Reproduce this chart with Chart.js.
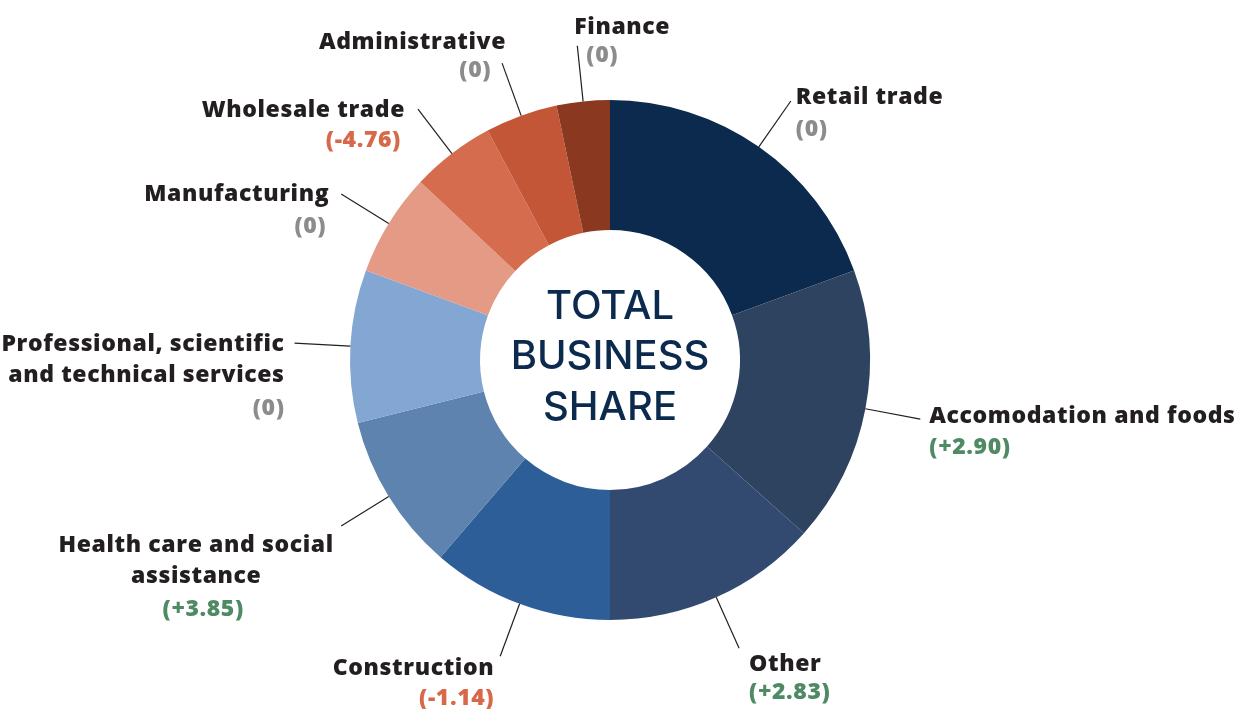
<!DOCTYPE html>
<html>
<head>
<meta charset="utf-8">
<title>Total business share</title>
<script src="https://cdn.jsdelivr.net/npm/chart.js@4.4.1/dist/chart.umd.min.js"></script>
<style>
    html, body { margin: 0; padding: 0; background: #fff; }
    #wrap { position: relative; width: 1246px; height: 709px; }
</style>
</head>
<body>
<div id="wrap"><canvas id="shareChart"></canvas></div>
<script>
// data
const categories = [
    'Retail trade',
    'Accomodation and foods',
    'Other',
    'Construction',
    ['Health care and social', 'assistance'],
    ['Professional, scientific', 'and technical services'],
    'Manufacturing',
    'Wholesale trade',
    'Administrative',
    'Finance'
];
const shareValues = [19.4, 17.2, 13.4, 11.3, 9.8, 9.5, 6.4, 5.2, 4.5, 3.3];
const changeValues = [0, 2.90, 2.83, -1.14, 3.85, 0, 0, -4.76, 0, 0];
const sliceColors = ['#0b2a4e', '#2d4360', '#324a70', '#2d5e98', '#5d83ae', '#84a6d3', '#e49a85', '#d46c4d', '#c35636', '#8a3820'];
const centerLines = ['TOTAL', 'BUSINESS', 'SHARE'];

// where each label sits relative to the end of its leader line
const labelLayout = [
    { align: 'left',   dx: 5,    dy: -4,  vdx: 5,    vdy: 28 },
    { align: 'left',   dx: 9,    dy: -3,  vdx: 9,    vdy: 28 },
    { align: 'left',   dx: 10,   dy: 16,  vdx: 10,   vdy: 44 },
    { align: 'right',  dx: -6,   dy: 12,  vdx: -6,   vdy: 42 },
    { align: 'center', dx: -145, dy: 20,  vdx: -138, vdy: 84 },
    { align: 'right',  dx: -10,  dy: 1,   vdx: -10,  vdy: 65 },
    { align: 'right',  dx: -12,  dy: 0,   vdx: -15,  vdy: 32 },
    { align: 'right',  dx: -13,  dy: 1,   vdx: -17,  vdy: 31 },
    { align: 'right',  dx: 4,    dy: -21, vdx: -11,  vdy: 7 },
    { align: 'left',   dx: -3,   dy: -18, vdx: 9,    vdy: 10 }
];

const LABEL_FONT = '800 23px "Open Sans", Lato, sans-serif';
const LINE_H = 31;

const formatChange = (v) => {
    if (v === 0) return '(0)';
    return '(' + (v > 0 ? '+' : '-') + Math.abs(v).toFixed(2) + ')';
};
const changeColor = (v) => v === 0 ? '#8c8c8c' : (v > 0 ? '#4f8a65' : '#d8684a');

const calloutPlugin = {
    id: 'callouts',
    afterDatasetsDraw(chart) {
        const ctx = chart.ctx;
        const meta = chart.getDatasetMeta(0);
        ctx.save();
        meta.data.forEach((arc, i) => {
            const p = arc.getProps(['x', 'y', 'startAngle', 'endAngle', 'outerRadius'], true);
            const mid = (p.startAngle + p.endAngle) / 2;
            const r0 = p.outerRadius;
            const r1 = p.outerRadius * 1.215;
            const sx = p.x + Math.cos(mid) * r0, sy = p.y + Math.sin(mid) * r0;
            const ex = p.x + Math.cos(mid) * r1, ey = p.y + Math.sin(mid) * r1;

            ctx.strokeStyle = '#231f20';
            ctx.lineWidth = 1.2;
            ctx.beginPath();
            ctx.moveTo(sx, sy);
            ctx.lineTo(ex, ey);
            ctx.stroke();

            const lay = labelLayout[i];
            const lines = [].concat(chart.data.labels[i]);
            ctx.font = LABEL_FONT;
            ctx.letterSpacing = '0.6px';
            ctx.textAlign = lay.align;
            ctx.textBaseline = 'middle';
            ctx.fillStyle = '#231f20';
            lines.forEach((ln, k) => {
                ctx.fillText(ln, ex + lay.dx, ey + lay.dy + k * LINE_H);
            });
            const v = changeValues[i];
            ctx.fillStyle = changeColor(v);
            ctx.fillText(formatChange(v), ex + lay.vdx, ey + lay.vdy);
        });
        ctx.restore();
    }
};

const centerTextPlugin = {
    id: 'centerText',
    afterDatasetsDraw(chart) {
        const arc = chart.getDatasetMeta(0).data[0];
        if (!arc) return;
        const ctx = chart.ctx;
        ctx.save();
        ctx.font = '500 40px Inter, "Open Sans", sans-serif';
        ctx.fillStyle = '#0b2a4e';
        ctx.textAlign = 'center';
        ctx.textBaseline = 'middle';
        centerLines.forEach((t, k) => {
            ctx.fillText(t, arc.x, arc.y - 3 + (k - 1) * 50.5);
        });
        ctx.restore();
    }
};

new Chart(document.getElementById('shareChart').getContext('2d'), {
    type: 'doughnut',
    data: {
        labels: categories,
        datasets: [{
            data: shareValues,
            backgroundColor: sliceColors,
            borderWidth: 0
        }]
    },
    options: {
        responsive: true,
        maintainAspectRatio: false,
        animation: false,
        cutout: '50%',
        layout: {
            padding: { top: 100, bottom: 89, left: 0, right: 26 }
        },
        plugins: {
            legend: { display: false },
            tooltip: { enabled: false }
        }
    },
    plugins: [calloutPlugin, centerTextPlugin]
});
</script>
</body>
</html>
